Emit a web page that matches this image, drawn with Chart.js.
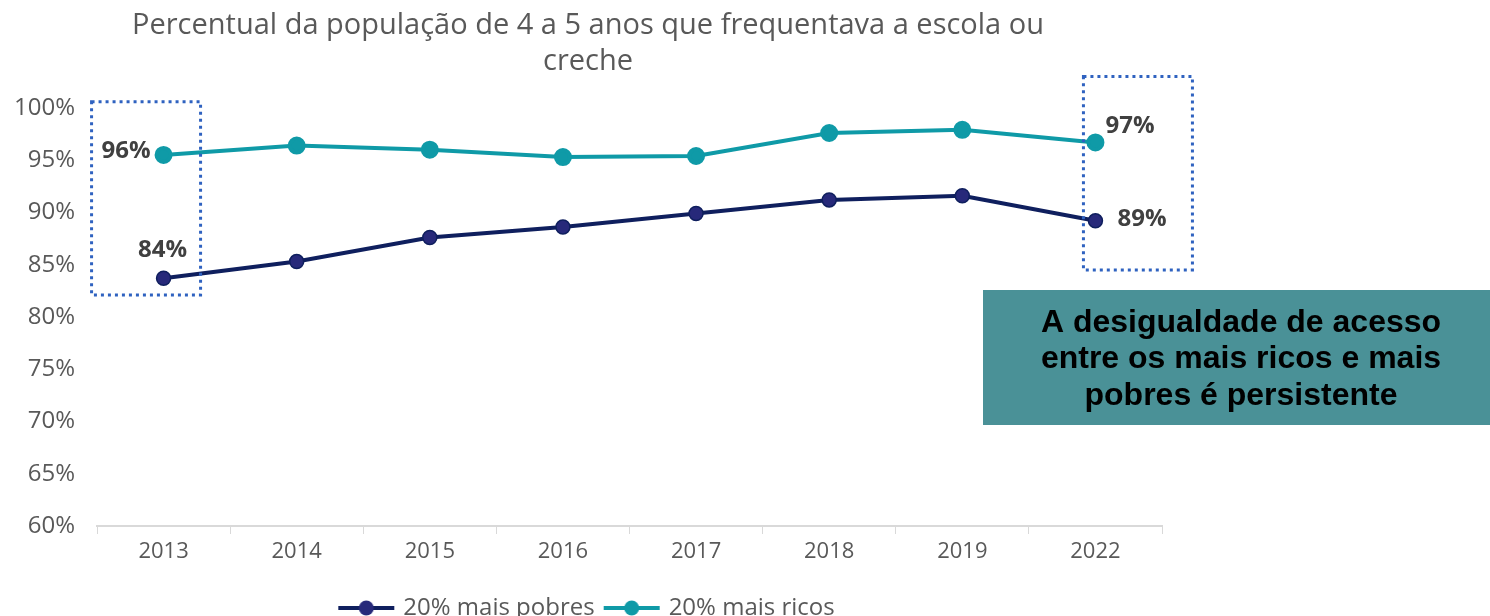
<!DOCTYPE html>
<html>
<head>
<meta charset="utf-8">
<script src="https://cdn.jsdelivr.net/npm/chart.js@4/dist/chart.umd.min.js"></script>
<style>
  html, body { margin: 0; padding: 0; background: #fff; overflow: hidden; }
  #wrap { width: 1490px; height: 630px; position: relative; }
</style>
</head>
<body>
<div id="wrap"><canvas id="chart"></canvas></div>
<script>
// Data
const years = ['2013', '2014', '2015', '2016', '2017', '2018', '2019', '2022'];
const pobres = [83.7, 85.3, 87.6, 88.6, 89.9, 91.2, 91.6, 89.2];
const ricos = [95.5, 96.4, 96.0, 95.3, 95.4, 97.6, 97.9, 96.7];
const titleLines = ['Percentual da população de 4 a 5 anos que frequentava a escola ou', 'creche'];
const noteLines = ['A desigualdade de acesso', 'entre os mais ricos e mais', 'pobres é persistente'];

const NAVY = '#0f1f5e';
const NAVY_PT = '#27297a';
const TEAL = '#0f9aa7';
const GREY = '#595959';
const FONT = '"Open Sans"';

function legendIcon(color, fill) {
  const c = document.createElement('canvas');
  c.width = 58; c.height = 20;
  const g = c.getContext('2d');
  g.strokeStyle = color; g.lineWidth = 4;
  g.beginPath(); g.moveTo(1, 10); g.lineTo(57, 10); g.stroke();
  g.fillStyle = fill;
  g.beginPath(); g.arc(29, 10, 7.5, 0, Math.PI * 2); g.fill();
  return c;
}
const icons = [legendIcon(NAVY, NAVY_PT), legendIcon(TEAL, TEAL)];

// first / last point labels
const endLabels = {
  id: 'endLabels',
  afterDatasetsDraw(chart) {
    const ctx = chart.ctx;
    ctx.save();
    ctx.font = 'bold 24px ' + FONT;
    ctx.fillStyle = '#404040';
    ctx.textBaseline = 'middle';
    const p0 = chart.getDatasetMeta(0).data;
    const p1 = chart.getDatasetMeta(1).data;
    const last = years.length - 1;
    const fmt = v => Math.round(v) + '%';
    ctx.textAlign = 'right';
    ctx.fillText(fmt(ricos[0]), p1[0].x - 13, p1[0].y - 4);
    ctx.textAlign = 'center';
    ctx.fillText(fmt(pobres[0]), p0[0].x - 1, p0[0].y - 28);
    ctx.textAlign = 'left';
    ctx.fillText(fmt(ricos[last]), p1[last].x + 10, p1[last].y - 16);
    ctx.fillText(fmt(pobres[last]), p0[last].x + 22, p0[last].y - 2);
    ctx.restore();
  }
};

// dotted highlight boxes and the note box
const overlay = {
  id: 'overlay',
  afterDraw(chart) {
    const ctx = chart.ctx;
    const x = chart.scales.x, y = chart.scales.y;
    ctx.save();
    ctx.strokeStyle = '#2f62c0';
    ctx.lineWidth = 3;
    ctx.setLineDash([3, 4]);
    const x0 = x.getPixelForValue(0), xl = x.getPixelForValue(years.length - 1);
    ctx.strokeRect(x0 - 72, y.getPixelForValue(100.6), 109, y.getPixelForValue(82.1) - y.getPixelForValue(100.6));
    ctx.strokeRect(xl - 12, y.getPixelForValue(103), 109, y.getPixelForValue(84.5) - y.getPixelForValue(103));
    ctx.setLineDash([]);
    ctx.fillStyle = '#4a9197';
    ctx.fillRect(983, 290, 507, 135);
    ctx.fillStyle = '#000';
    ctx.font = 'bold 32px "Liberation Sans"';
    ctx.textAlign = 'center';
    ctx.textBaseline = 'middle';
    noteLines.forEach((t, i) => ctx.fillText(t, 1241, 323 + i * 36.5));
    ctx.restore();
  }
};

new Chart(document.getElementById('chart'), {
  type: 'line',
  data: {
    labels: years,
    datasets: [{
      label: '20% mais pobres',
      data: pobres,
      borderColor: NAVY,
      backgroundColor: NAVY_PT,
      pointBackgroundColor: NAVY_PT,
      pointBorderColor: NAVY,
      pointBorderWidth: 1.5,
      pointRadius: 7,
      borderWidth: 4,
      fill: false
    }, {
      label: '20% mais ricos',
      data: ricos,
      borderColor: TEAL,
      backgroundColor: TEAL,
      pointBackgroundColor: TEAL,
      pointBorderColor: TEAL,
      pointRadius: 7,
      borderWidth: 4,
      fill: false
    }]
  },
  options: {
    responsive: true,
    maintainAspectRatio: false,
    animation: false,
    layout: { padding: { left: 14, right: 328, top: 0, bottom: 0 } },
    plugins: {
      title: {
        display: true,
        text: titleLines,
        color: GREY,
        font: { family: FONT, size: 29, weight: 'normal', lineHeight: 1.24 },
        padding: { top: 8, bottom: 28 }
      },
      legend: {
        position: 'bottom',
        labels: {
          color: GREY,
          font: { family: FONT, size: 24 },
          usePointStyle: true,
          pointStyleWidth: 50,
          padding: 12,
          generateLabels(chart) {
            return chart.data.datasets.map((ds, i) => ({
              text: ds.label,
              fontColor: GREY,
              pointStyle: icons[i],
              datasetIndex: i,
              lineWidth: 0,
              strokeStyle: 'transparent',
              fillStyle: 'transparent'
            }));
          }
        }
      },
      tooltip: { enabled: false }
    },
    scales: {
      x: {
        offset: true,
        grid: { offset: true, drawOnChartArea: false, drawTicks: true, tickLength: 8, color: '#d9d9d9' },
        border: { color: '#d9d9d9', width: 2 },
        ticks: { color: GREY, font: { family: FONT, size: 22 }, padding: 5 },
        afterFit(s) { s.height = 58; }
      },
      y: {
        min: 60,
        max: 100,
        ticks: { stepSize: 5, color: GREY, font: { family: FONT, size: 24 }, padding: 22, callback: v => v + '%' },
        grid: { display: false, drawTicks: false },
        border: { display: false },
        afterFit(s) { s.width = 83; }
      }
    }
  },
  plugins: [endLabels, overlay]
});
</script>
</body>
</html>
